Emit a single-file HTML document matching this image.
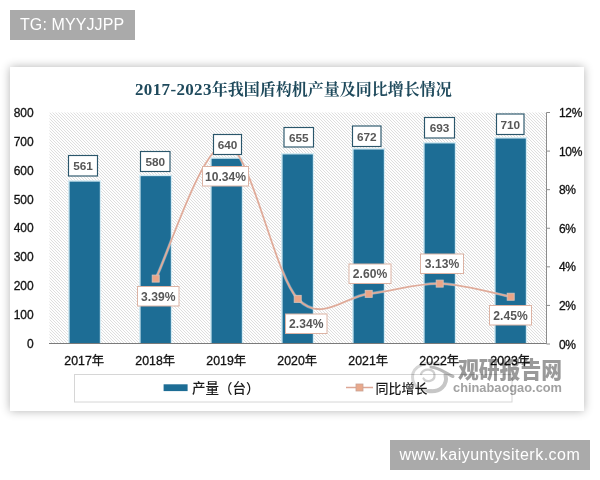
<!DOCTYPE html>
<html lang="zh"><head><meta charset="utf-8"><title>chart</title>
<style>
html,body{margin:0;padding:0;background:#fff;}
body{width:600px;height:480px;position:relative;overflow:hidden;font-family:"Liberation Sans","Noto Sans CJK SC",sans-serif;}
.tag{position:absolute;background:#aaaaaa;color:#fff;font-size:16px;line-height:30px;white-space:nowrap;}
#t1{left:10px;top:10px;width:125px;height:29.5px;letter-spacing:0.1px;}
#t1 span{position:absolute;left:10px;top:0;}
#t2{left:389.5px;top:440px;width:200.5px;height:29.5px;letter-spacing:0.5px;}
#t2 span{position:absolute;left:10px;top:0;}
#card{position:absolute;left:10px;top:67px;width:574px;height:344px;background:#fff;box-shadow:0 0 9px rgba(0,0,0,0.30);}
svg{position:absolute;left:0;top:0;}
.ax{font-size:12px;fill:#111;stroke:#111;stroke-width:0.3px;}
.dl{font-size:11.8px;font-weight:bold;fill:#575757;}
</style></head><body>
<div class="tag" id="t1"><span>TG: MYYJJPP</span></div>
<div id="card"></div>
<svg width="600" height="480" viewBox="0 0 600 480" font-family='"Liberation Sans","Noto Sans CJK SC",sans-serif'>
<defs>
<pattern id="h" width="3" height="3" patternUnits="userSpaceOnUse">
<rect width="3" height="3" fill="#fefefe"/>
<path d="M-1,-1 L4,4 M-1,2 L1,4 M2,-1 L4,1" stroke="#d6d6d6" stroke-width="0.8"/>
</pattern>
</defs>

<rect x="49.5" y="112.5" width="497.0" height="231.5" fill="url(#h)"/>
<text x="135" y="95" font-family='"Liberation Serif","Noto Serif CJK SC",serif' font-weight="bold" font-size="16" fill="#1f4a5c"><tspan font-size="17" letter-spacing="0.35">2017-2023</tspan>年我国盾构机产量及同比增长情况</text>
<rect x="68.00" y="180.26" width="33.1" height="163.74" fill="#d2e9f2"/>
<rect x="69.60" y="181.66" width="30.2" height="162.34" fill="#1d6d95"/>
<rect x="139.00" y="174.76" width="33.1" height="169.24" fill="#d2e9f2"/>
<rect x="140.60" y="176.16" width="30.2" height="167.84" fill="#1d6d95"/>
<rect x="210.00" y="157.40" width="33.1" height="186.60" fill="#d2e9f2"/>
<rect x="211.60" y="158.80" width="30.2" height="185.20" fill="#1d6d95"/>
<rect x="281.00" y="153.06" width="33.1" height="190.94" fill="#d2e9f2"/>
<rect x="282.60" y="154.46" width="30.2" height="189.54" fill="#1d6d95"/>
<rect x="352.00" y="148.14" width="33.1" height="195.86" fill="#d2e9f2"/>
<rect x="353.60" y="149.54" width="30.2" height="194.46" fill="#1d6d95"/>
<rect x="423.00" y="142.06" width="33.1" height="201.94" fill="#d2e9f2"/>
<rect x="424.60" y="143.46" width="30.2" height="200.54" fill="#1d6d95"/>
<rect x="494.00" y="137.14" width="33.1" height="206.86" fill="#d2e9f2"/>
<rect x="495.60" y="138.54" width="30.2" height="205.46" fill="#1d6d95"/>
<path d="M49.0,343.5 H546.5" stroke="#7a7a7a" stroke-width="1"/>
<path d="M546.5,112.5 V344" stroke="#8c8c8c" stroke-width="1"/>
<path d="M546.5,344.00 h3.5" stroke="#8c8c8c" stroke-width="1"/>
<text class="ax" x="559" y="348.50" letter-spacing="-0.35">0%</text>
<path d="M546.5,305.42 h3.5" stroke="#8c8c8c" stroke-width="1"/>
<text class="ax" x="559" y="309.92" letter-spacing="-0.35">2%</text>
<path d="M546.5,266.83 h3.5" stroke="#8c8c8c" stroke-width="1"/>
<text class="ax" x="559" y="271.33" letter-spacing="-0.35">4%</text>
<path d="M546.5,228.25 h3.5" stroke="#8c8c8c" stroke-width="1"/>
<text class="ax" x="559" y="232.75" letter-spacing="-0.35">6%</text>
<path d="M546.5,189.67 h3.5" stroke="#8c8c8c" stroke-width="1"/>
<text class="ax" x="559" y="194.17" letter-spacing="-0.35">8%</text>
<path d="M546.5,151.08 h3.5" stroke="#8c8c8c" stroke-width="1"/>
<text class="ax" x="559" y="155.58" letter-spacing="-0.35">10%</text>
<path d="M546.5,112.50 h3.5" stroke="#8c8c8c" stroke-width="1"/>
<text class="ax" x="559" y="117.00" letter-spacing="-0.35">12%</text>
<text class="ax" x="33.7" y="348.20" text-anchor="end">0</text>
<text class="ax" x="33.7" y="319.26" text-anchor="end">100</text>
<text class="ax" x="33.7" y="290.32" text-anchor="end">200</text>
<text class="ax" x="33.7" y="261.39" text-anchor="end">300</text>
<text class="ax" x="33.7" y="232.45" text-anchor="end">400</text>
<text class="ax" x="33.7" y="203.51" text-anchor="end">500</text>
<text class="ax" x="33.7" y="174.57" text-anchor="end">600</text>
<text class="ax" x="33.7" y="145.64" text-anchor="end">700</text>
<text class="ax" x="33.7" y="116.70" text-anchor="end">800</text>
<text class="ax" x="84.20" y="365.3" style="font-size:12.3px" text-anchor="middle">2017年</text>
<text class="ax" x="155.20" y="365.3" style="font-size:12.3px" text-anchor="middle">2018年</text>
<text class="ax" x="226.20" y="365.3" style="font-size:12.3px" text-anchor="middle">2019年</text>
<text class="ax" x="297.20" y="365.3" style="font-size:12.3px" text-anchor="middle">2020年</text>
<text class="ax" x="368.20" y="365.3" style="font-size:12.3px" text-anchor="middle">2021年</text>
<text class="ax" x="439.20" y="365.3" style="font-size:12.3px" text-anchor="middle">2022年</text>
<text class="ax" x="510.20" y="365.3" style="font-size:12.3px" text-anchor="middle">2023年</text>
<path d="M155.70,278.60 C167.53,256.26 203.03,141.15 226.70,144.52 C250.37,147.90 274.03,273.97 297.70,298.86 C321.37,323.74 345.03,296.38 368.70,293.84 C392.37,291.30 416.03,283.13 439.70,283.62 C463.37,284.10 498.87,294.55 510.70,296.74" fill="none" stroke="#ffffff" stroke-opacity="0.35" stroke-width="3"/>
<path d="M155.70,278.60 C167.53,256.26 203.03,141.15 226.70,144.52 C250.37,147.90 274.03,273.97 297.70,298.86 C321.37,323.74 345.03,296.38 368.70,293.84 C392.37,291.30 416.03,283.13 439.70,283.62 C463.37,284.10 498.87,294.55 510.70,296.74" fill="none" stroke="#dfab9a" stroke-width="1.8"/>
<rect x="152.20" y="275.10" width="7" height="7" fill="#eba587" stroke="#d6c0b8" stroke-width="0.9"/>
<rect x="223.20" y="141.02" width="7" height="7" fill="#eba587" stroke="#d6c0b8" stroke-width="0.9"/>
<rect x="294.20" y="295.36" width="7" height="7" fill="#eba587" stroke="#d6c0b8" stroke-width="0.9"/>
<rect x="365.20" y="290.34" width="7" height="7" fill="#eba587" stroke="#d6c0b8" stroke-width="0.9"/>
<rect x="436.20" y="280.12" width="7" height="7" fill="#eba587" stroke="#d6c0b8" stroke-width="0.9"/>
<rect x="507.20" y="293.24" width="7" height="7" fill="#eba587" stroke="#d6c0b8" stroke-width="0.9"/>
<rect x="68.5" y="155.5" width="29" height="20.5" fill="#fff" stroke="#2a566b" stroke-width="1.15"/>
<text class="dl" x="83.0" y="170.35" text-anchor="middle">561</text>
<rect x="140.5" y="151.5" width="29.5" height="20" fill="#fff" stroke="#2a566b" stroke-width="1.15"/>
<text class="dl" x="155.25" y="166.1" text-anchor="middle">580</text>
<rect x="213.5" y="134.5" width="28" height="20" fill="#fff" stroke="#2a566b" stroke-width="1.15"/>
<text class="dl" x="227.5" y="149.1" text-anchor="middle">640</text>
<rect x="284" y="127.5" width="29.5" height="19.5" fill="#fff" stroke="#2a566b" stroke-width="1.15"/>
<text class="dl" x="298.75" y="141.85" text-anchor="middle">655</text>
<rect x="352.5" y="126" width="28.5" height="20.5" fill="#fff" stroke="#2a566b" stroke-width="1.15"/>
<text class="dl" x="366.75" y="140.85" text-anchor="middle">672</text>
<rect x="424.5" y="117.5" width="30" height="20.5" fill="#fff" stroke="#2a566b" stroke-width="1.15"/>
<text class="dl" x="439.5" y="132.35" text-anchor="middle">693</text>
<rect x="496.5" y="114" width="27.5" height="20.5" fill="#fff" stroke="#2a566b" stroke-width="1.15"/>
<text class="dl" x="510.25" y="128.85" text-anchor="middle">710</text>
<rect x="137.5" y="286.5" width="41.5" height="19.5" fill="#fff" stroke="#dcb3a4" stroke-width="1"/>
<text class="dl" style="font-size:12.1px" x="158.25" y="300.65" text-anchor="middle">3.39%</text>
<rect x="202.5" y="166.5" width="46" height="19.5" fill="#fff" stroke="#dcb3a4" stroke-width="1"/>
<text class="dl" style="font-size:12.1px" x="225.5" y="180.65" text-anchor="middle">10.34%</text>
<rect x="285.5" y="314" width="41.5" height="19.5" fill="#fff" stroke="#dcb3a4" stroke-width="1"/>
<text class="dl" style="font-size:12.1px" x="306.25" y="328.15" text-anchor="middle">2.34%</text>
<rect x="349" y="264" width="42" height="19.5" fill="#fff" stroke="#dcb3a4" stroke-width="1"/>
<text class="dl" style="font-size:12.1px" x="370.0" y="278.15" text-anchor="middle">2.60%</text>
<rect x="420.5" y="254" width="43" height="19.5" fill="#fff" stroke="#dcb3a4" stroke-width="1"/>
<text class="dl" style="font-size:12.1px" x="442.0" y="268.15" text-anchor="middle">3.13%</text>
<rect x="489.5" y="305.5" width="42" height="19.5" fill="#fff" stroke="#dcb3a4" stroke-width="1"/>
<text class="dl" style="font-size:12.1px" x="510.5" y="319.65" text-anchor="middle">2.45%</text>
<rect x="74.5" y="374.5" width="437.5" height="27.5" fill="#fff" stroke="#d6d6d6" stroke-width="1"/>
<rect x="163.6" y="384.3" width="24" height="6.8" fill="#1d6d95"/>
<text x="192" y="392.5" font-size="13.5" font-weight="500" fill="#1a1a1a">产量（台）</text>
<path d="M346,387.5 H373" stroke="#dda796" stroke-width="1.5"/>
<rect x="356" y="384" width="7" height="7" fill="#e9a98c" stroke="#c9a294" stroke-width="0.8"/>
<text x="375.5" y="392.5" font-size="13" font-weight="500" fill="#1a1a1a">同比增长</text>
<g style="mix-blend-mode:multiply">
<g fill="none" stroke-linecap="round"><path d="M441,364.5 C427,360 412.5,366 412.5,377 C412.5,387 422,392 431,390.5" stroke="#d6d6d6" stroke-width="3"/><path d="M428,391 C440,393 448,385 445.5,375" stroke="#c6c6c6" stroke-width="4"/><path d="M431,367 C439,367.5 446,373.5 453,376.5" stroke="#b8b8b8" stroke-width="3"/><path d="M421,374 C424,367.5 434,368.5 434.5,375 C435,381.5 426,383 423.5,378.5" stroke="#d0d0d0" stroke-width="2.2"/></g>
<text x="458" y="377.6" font-size="22.5" font-weight="900" fill="#9a9a9a" textLength="104" lengthAdjust="spacingAndGlyphs">观研报告网</text>
<text x="453" y="392.2" font-size="13.2" font-weight="bold" fill="#a2a2a2" textLength="109" lengthAdjust="spacingAndGlyphs">chinabaogao.com</text></g>
</svg>
<div class="tag" id="t2"><span>www.kaiyuntysiterk.com</span></div>
</body></html>
